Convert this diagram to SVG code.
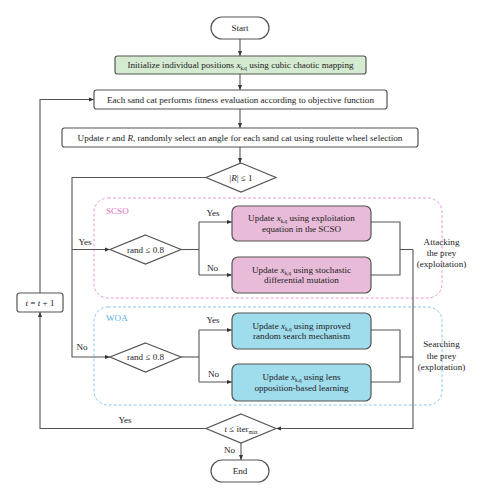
<svg xmlns="http://www.w3.org/2000/svg" width="482" height="500" viewBox="0 0 482 500">
<defs>
<marker id="ah" viewBox="0 0 10 10" refX="10" refY="5" markerWidth="5" markerHeight="5" orient="auto" markerUnits="userSpaceOnUse">
<path d="M0,1 L10,5 L0,9 z" fill="#333"/>
</marker>
</defs>
<style>
text{font-family:"Liberation Serif","Times New Roman",serif;font-size:9.1px;fill:#222;text-anchor:middle}
.sub{font-size:5.2px}
.it{font-style:italic}
.box{stroke:#555;stroke-width:1.2;fill:#fff}
.green{fill:#d5ebd1}
.pink{fill:#e8bcd9}
.blue{fill:#9fdcec}
.line{stroke:#555;stroke-width:1.1;fill:none}
.arr{marker-end:url(#ah)}
.grp{fill:none;stroke-width:1;stroke-dasharray:3,2}
.lbl{text-anchor:start}
</style>
<rect width="482" height="500" fill="#fff"/>

<g id="group-scso">
<rect x="94" y="198" width="348" height="100" rx="14" class="grp" stroke="#e89ad6"/>
<text x="106" y="214" class="lbl" style="fill:#d870c4">SCSO</text>
</g>
<g id="group-woa">
<rect x="94" y="307" width="348" height="98" rx="14" class="grp" stroke="#8cc8ee"/>
<text x="106" y="321" class="lbl" style="fill:#5aaee6">WOA</text>
</g>

<g id="connectors">
<line x1="240" y1="39" x2="240" y2="56" class="line arr"/>
<line x1="240" y1="74" x2="240" y2="90" class="line arr"/>
<line x1="240" y1="109" x2="240" y2="128" class="line arr"/>
<line x1="240" y1="147" x2="240" y2="163" class="line arr"/>
<polyline points="206,177.5 72,177.5 72,357 110,357" class="line arr"/>
<line x1="72" y1="249.5" x2="110" y2="249.5" class="line arr"/>
<line x1="181" y1="249.5" x2="199" y2="249.5" class="line"/>
<line x1="199" y1="222" x2="199" y2="275" class="line"/>
<line x1="199" y1="222" x2="232" y2="222" class="line arr"/>
<line x1="199" y1="275" x2="232" y2="275" class="line arr"/>
<polyline points="371,222 400,222 400,275 371,275" class="line"/>
<line x1="400" y1="249.5" x2="413" y2="249.5" class="line"/>
<line x1="181" y1="357" x2="199" y2="357" class="line"/>
<line x1="199" y1="330" x2="199" y2="382" class="line"/>
<line x1="199" y1="330" x2="232" y2="330" class="line arr"/>
<line x1="199" y1="382" x2="232" y2="382" class="line arr"/>
<polyline points="371,330 400,330 400,382 371,382" class="line"/>
<line x1="400" y1="357" x2="413" y2="357" class="line"/>
<polyline points="413,249.5 413,428.5 276,428.5" class="line arr"/>
<polyline points="206,428.5 40,428.5 40,312" class="line arr"/>
<polyline points="40,293 40,99.5 94,99.5" class="line arr"/>
<line x1="241" y1="443" x2="241" y2="460" class="line arr"/>
<text x="85" y="245">Yes</text>
<text x="82" y="350">No</text>
<text x="213" y="216">Yes</text>
<text x="212.5" y="271">No</text>
<text x="213" y="323">Yes</text>
<text x="213.5" y="377">No</text>
<text x="125" y="423">Yes</text>
<text x="229.5" y="453">No</text>
<text x="441.5" y="245">Attacking</text>
<text x="441.5" y="256">the prey</text>
<text x="441.5" y="267">(exploitation)</text>
<text x="441.5" y="347">Searching</text>
<text x="441.5" y="359">the prey</text>
<text x="441.5" y="370">(exploration)</text>
</g>

<g id="start">
<rect x="211" y="17" width="58" height="22" rx="11" class="box"/>
<text x="240" y="31">Start</text>
</g>
<g id="init">
<rect x="115" y="56" width="251" height="18" rx="2.5" class="box green"/>
<text x="240.5" y="68">Initialize individual positions <tspan class="it">x</tspan><tspan class="sub" dy="2">k,q</tspan><tspan dy="-2"> using cubic chaotic mapping</tspan></text>
</g>
<g id="eval">
<rect x="94" y="90" width="293" height="19" rx="2.5" class="box"/>
<text x="240.5" y="102.5">Each sand cat performs fitness evaluation according to objective function</text>
</g>
<g id="update-r">
<rect x="62" y="128" width="356" height="19" rx="2.5" class="box"/>
<text x="240" y="140.5">Update <tspan class="it">r</tspan> and <tspan class="it">R</tspan>, randomly select an angle for each sand cat using roulette wheel selection</text>
</g>
<g id="dec-R">
<polygon points="241,163 276,177.5 241,192 206,177.5" class="box"/>
<text x="241" y="180.5">|<tspan class="it">R</tspan>| ≤ 1</text>
</g>
<g id="dec-rand1">
<polygon points="145.5,235 181,249.5 145.5,264 110,249.5" class="box"/>
<text x="145.5" y="252.5">rand ≤ 0.8</text>
</g>
<g id="scso-exploit">
<rect x="232" y="206" width="139" height="35" rx="6" class="box pink"/>
<text x="301.5" y="221">Update <tspan class="it">x</tspan><tspan class="sub" dy="2">k,q</tspan><tspan dy="-2"> using exploitation</tspan></text>
<text x="301.5" y="232">equation in the SCSO</text>
</g>
<g id="scso-mutation">
<rect x="232" y="257" width="139" height="36" rx="6" class="box pink"/>
<text x="301.5" y="272.5">Update <tspan class="it">x</tspan><tspan class="sub" dy="2">k,q</tspan><tspan dy="-2"> using stochastic</tspan></text>
<text x="301.5" y="283">differential mutation</text>
</g>
<g id="dec-rand2">
<polygon points="145.5,343 181,357 145.5,372 110,357" class="box"/>
<text x="145.5" y="360">rand ≤ 0.8</text>
</g>
<g id="woa-search">
<rect x="232" y="313" width="139" height="36" rx="6" class="box blue"/>
<text x="301.5" y="328.5">Update <tspan class="it">x</tspan><tspan class="sub" dy="2">k,q</tspan><tspan dy="-2"> using improved</tspan></text>
<text x="301.5" y="339">random search mechanism</text>
</g>
<g id="woa-lens">
<rect x="232" y="364" width="139" height="37" rx="6" class="box blue"/>
<text x="301.5" y="380">Update <tspan class="it">x</tspan><tspan class="sub" dy="2">k,q</tspan><tspan dy="-2"> using lens</tspan></text>
<text x="301.5" y="391">opposition-based learning</text>
</g>
<g id="increment">
<rect x="17" y="293" width="46" height="19" rx="2.5" class="box"/>
<text x="40" y="305.5"><tspan class="it">t</tspan> = <tspan class="it">t</tspan> + 1</text>
</g>
<g id="dec-iter">
<polygon points="241,414 276,428.5 241,443 206,428.5" class="box"/>
<text x="241" y="431.5"><tspan class="it">t</tspan> ≤ iter<tspan class="sub" dy="2">max</tspan></text>
</g>
<g id="end">
<rect x="211" y="460" width="58" height="22" rx="11" class="box"/>
<text x="240" y="474">End</text>
</g>
</svg>
